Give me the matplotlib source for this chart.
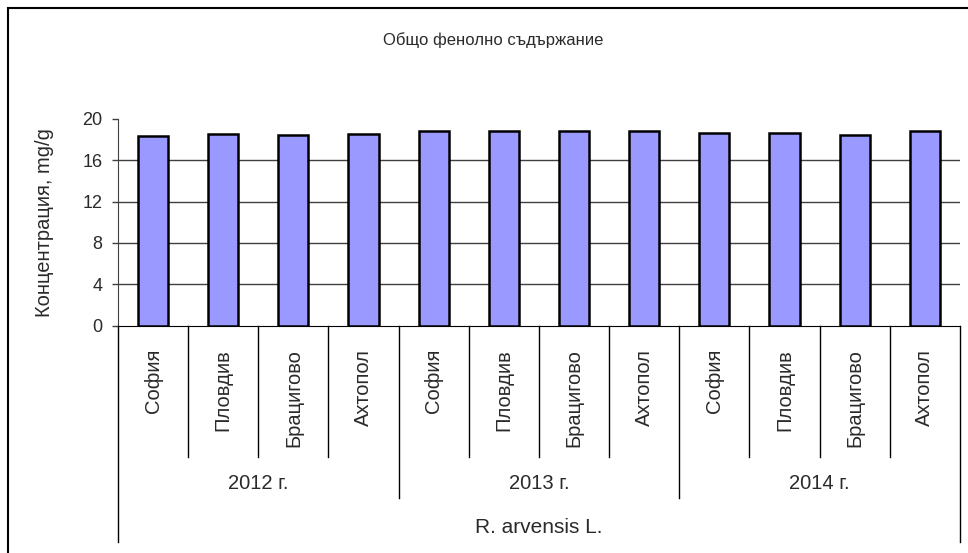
"""
Общо фенолно съдържание - R. arvensis L., 2012-2014 г.
"""

import matplotlib
matplotlib.use("Agg")
import matplotlib.pyplot as plt
from matplotlib.patches import Rectangle

plt.rcParams['font.family'] = ['Liberation Sans', 'DejaVu Sans']

# Данни
godini = ["2012 г.", "2013 г.", "2014 г."]
gradove = ["София", "Пловдив", "Брацигово", "Ахтопол"]
stoinosti_2012 = [18.3, 18.55, 18.45, 18.55]
stoinosti_2013 = [18.8, 18.8, 18.8, 18.8]
stoinosti_2014 = [18.65, 18.65, 18.45, 18.8]
vid = "R. arvensis L."
y_ticks = [0, 4, 8, 12, 16, 20]

stoinosti = stoinosti_2012 + stoinosti_2013 + stoinosti_2014
etiketi = gradove * len(godini)
x = list(range(len(stoinosti)))

fig = plt.figure(figsize=(9.68, 5.53), dpi=100)
ax = fig.add_axes([0.1219, 0.4105, 0.8698, 0.3752])

# Решетка и стълбове
for t in y_ticks[1:-1]:
    ax.axhline(t, color="#404040", linewidth=1, zorder=1)
ax.bar(x, stoinosti, width=0.43, color="#9999FF", edgecolor="black",
       linewidth=1.8, zorder=3)

ax.set_xlim(-0.5, len(stoinosti) - 0.5)
ax.set_ylim(0, 20)
ax.set_yticks(y_ticks)
txt = "#2a2a2a"
ax.tick_params(axis="y", direction="out", length=4, width=1,
               color="#404040", labelsize=13, pad=7, labelcolor=txt)
ax.set_xticks([])
for s in ["top", "right"]:
    ax.spines[s].set_visible(False)
ax.spines["left"].set_color("#404040")
ax.spines["bottom"].set_color("black")

# Многостепенна ос X
tr = ax.get_xaxis_transform()
n = len(gradove)
for i in range(len(stoinosti) + 1):
    xb = i - 0.5
    if i == 0 or i == len(stoinosti):
        dolu = -1.04
    elif i % n == 0:
        dolu = -0.83
    else:
        dolu = -0.63
    ax.plot([xb, xb], [0, dolu], transform=tr, color="black",
            linewidth=1, clip_on=False)

for xi, lab in zip(x, etiketi):
    ax.text(xi, -0.11, lab, transform=tr, rotation=90, ha="center", va="top",
            fontsize=14.5, color=txt)
for k, g in enumerate(godini):
    ax.text(k * n + (n - 1) / 2, -0.757, g, transform=tr, ha="center",
            va="center", fontsize=14.5, color=txt)
ax.text((len(stoinosti) - 1) / 2, -0.969, vid, transform=tr, ha="center",
        va="center", fontsize=15, color=txt)

# Заглавие и надпис на ос Y
fig.text(493 / 968, 1 - 40 / 553, "Общо фенолно съдържание", ha="center",
         va="center", fontsize=12, color=txt)
fig.text(45 / 968, 1 - 223 / 553, "Концентрация, mg/g", rotation=90,
         ha="center", va="center", fontsize=14.5, color=txt)

# Рамка на диаграмата
fig.patches.append(Rectangle((8 / 968, -0.1), 1.2, 1.1 - 8 / 553,
                             transform=fig.transFigure, fill=False,
                             edgecolor="black", linewidth=1.5))

fig.savefig("out.png", dpi=100)
